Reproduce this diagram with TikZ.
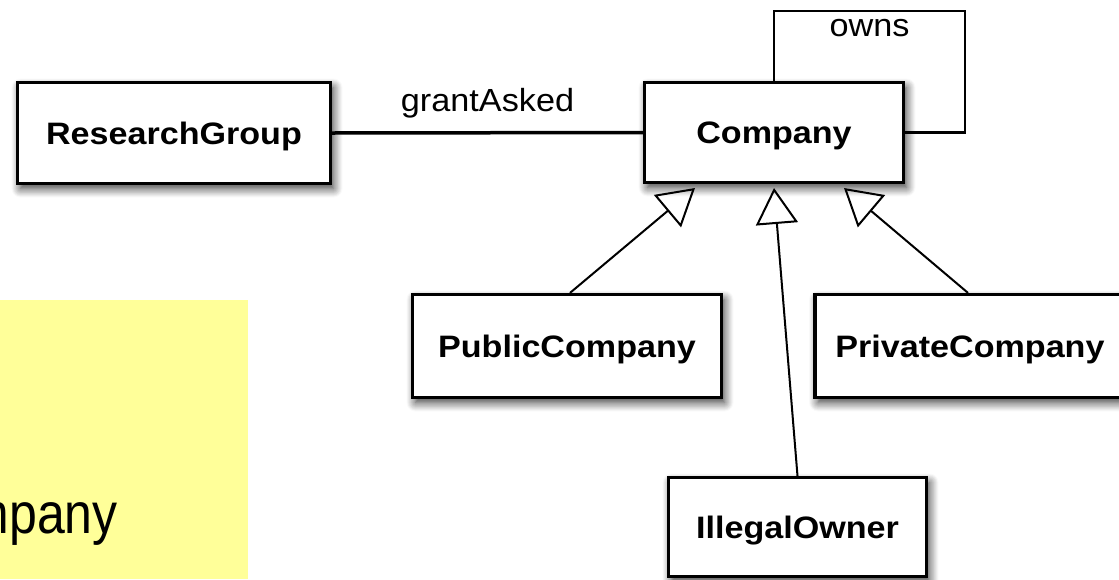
\documentclass[tikz,border=0pt]{standalone}
\usepackage{fontspec}
\setmainfont{Liberation Sans}
\usepackage{graphicx}
\usetikzlibrary{arrows.meta,shadows.blur,backgrounds,calc}
\definecolor{noteyellow}{HTML}{FFFF99}
\begin{document}
\begin{tikzpicture}[x=1pt,y=-1pt,
  cls/.style={draw, line width=3.2pt, fill=white, inner sep=0pt,
    text height=26pt, text depth=4pt,
    font=\fontsize{31}{36}\selectfont\bfseries,
    blur shadow={shadow xshift=3pt, shadow yshift=-5pt, shadow blur radius=9pt, shadow blur steps=10, shadow opacity=80}},
  lbl/.style={font=\fontsize{32}{36}\selectfont, inner sep=0pt},
  gen/.style={line width=2pt, -{Triangle[open, length=36pt, width=42pt]}},
  assoc/.style={line width=3.5pt},
  selfloop/.style={line width=2.5pt},
]
\useasboundingbox (0,0) rectangle (1119,579);

% yellow note
\fill[noteyellow] (0,300) rectangle (248,579);
\begin{scope}
  \clip (0,300) rectangle (248,579);
  \node[anchor=base east, inner sep=0pt, font=\fontsize{50}{56}\selectfont] (notetxt) at (118,533) {\scalebox{1}[1.15]{Company}};
\end{scope}

% classes
\node[cls, minimum width=313pt, minimum height=101pt] (rg) at (174,133) {\scalebox{1.1}[1]{ResearchGroup}};
\node[cls, minimum width=259pt, minimum height=100pt] (company) at (774,132.5) {\scalebox{1.1}[1]{Company}};
\node[cls, minimum width=309pt, minimum height=103pt] (pub) at (567,346) {\scalebox{1.1}[1]{PublicCompany}};
\node[cls, minimum width=340pt, minimum height=103pt] (priv) at (985,346) {\scalebox{1.1}[1]{PrivateCompany}\hspace*{30pt}};
\node[cls, minimum width=258pt, minimum height=99pt] (ill) at (797.5,527) {\scalebox{1.1}[1]{IllegalOwner}};

% self association "owns"
\coordinate (loopc) at (965,11);
\begin{scope}[on background layer]
  \draw[selfloop] (company.north) |- node[lbl, pos=0.75, anchor=base, yshift=-25pt] (ownslbl) {\scalebox{1.07}[1]{owns}} (loopc) |- (company.east);
\end{scope}

% association grantAsked
\draw[assoc] (rg.east) -- node[lbl, anchor=base, yshift=21pt] (grantlbl) {\scalebox{1.07}[1]{grantAsked}} (company.west);

% generalizations
\coordinate (tA) at (695,188);
\coordinate (tB) at (774,188);
\coordinate (tC) at (844,188);
\draw[gen] ($(pub.north)+(3,0)$) -- (tA);
\draw[gen] ($(priv.north)+(-17,0)$) -- (tC);
\draw[gen] (ill.north) -- (tB);
\end{tikzpicture}
\end{document}
